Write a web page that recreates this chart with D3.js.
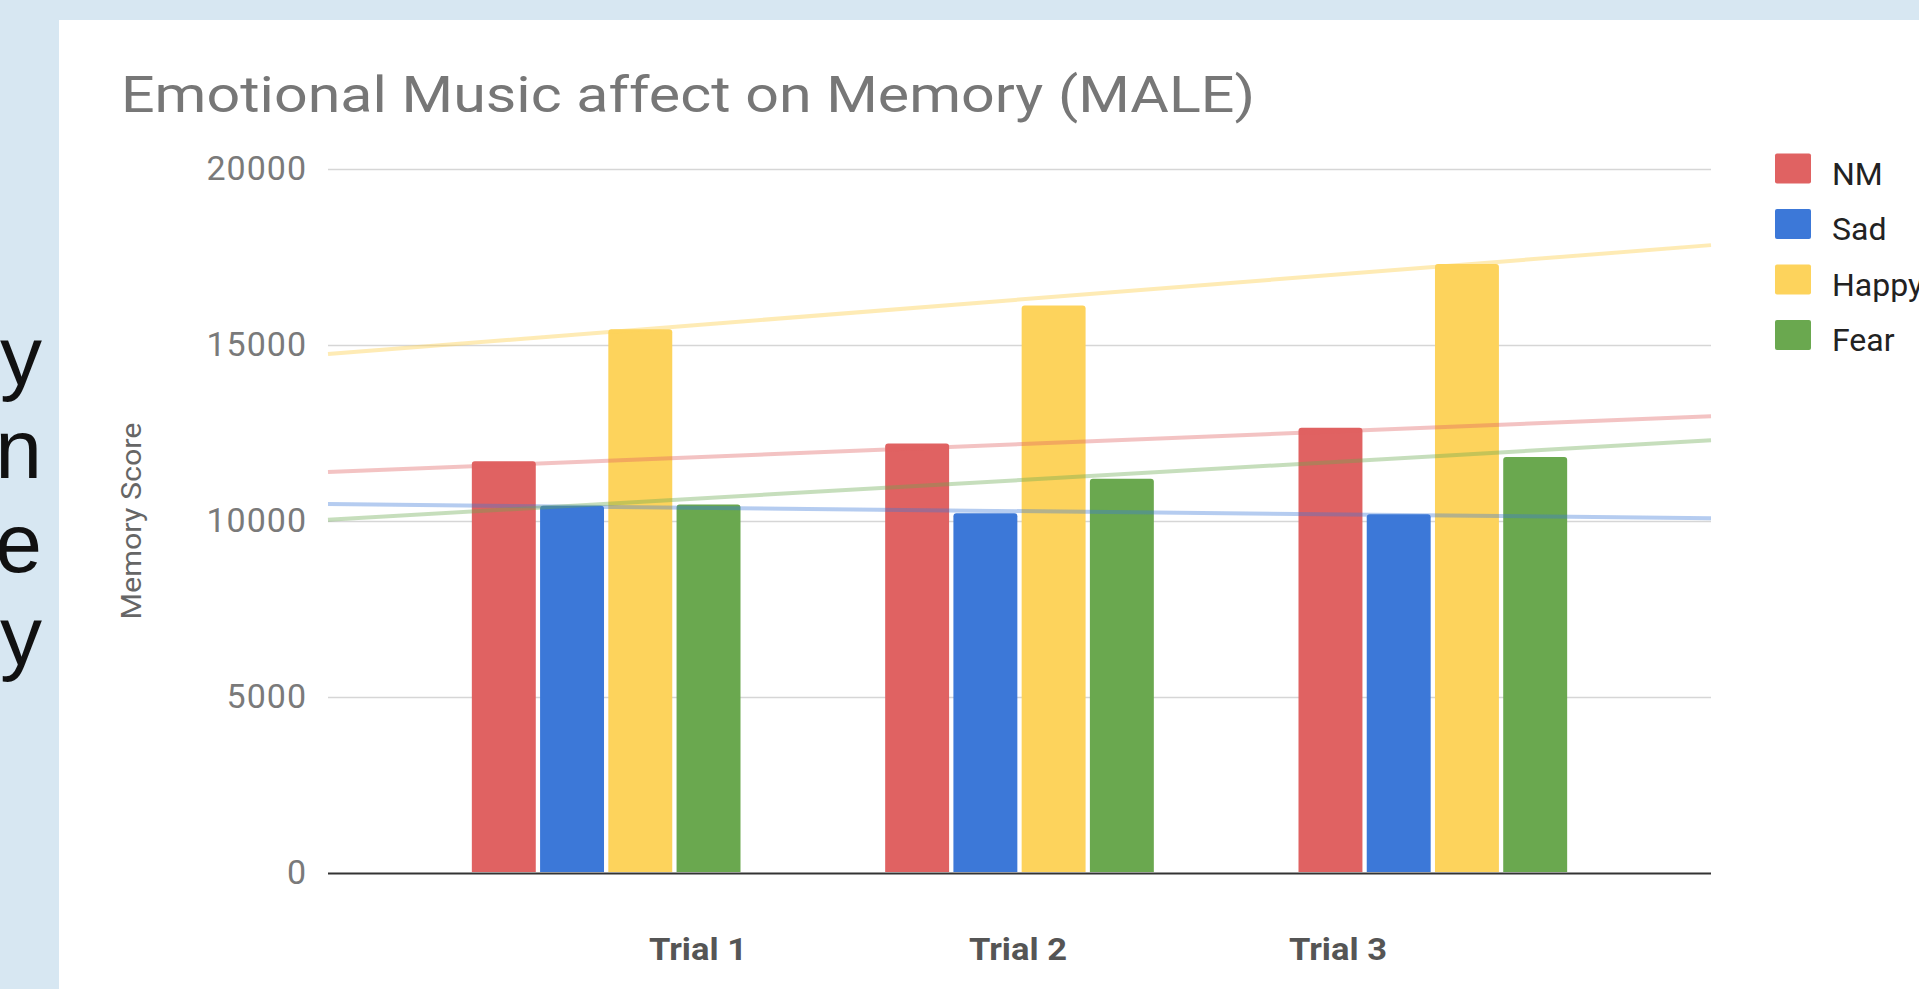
<!DOCTYPE html>
<html>
<head>
<meta charset="utf-8">
<script src="https://cdn.jsdelivr.net/npm/d3@7"></script>
<style>
  html, body { margin: 0; padding: 0; overflow: hidden; background: #d7e7f2; }
  svg { display: block; }
</style>
</head>
<body>
<script>
// Categories, series and values
const trials = ["Trial 1", "Trial 2", "Trial 3"];
const seriesNames = ["NM", "Sad", "Happy", "Fear"];
const nmScores    = [11700, 12200, 12650];
const sadScores   = [10430, 10220, 10190];
const happyScores = [15450, 16120, 17300];
const fearScores  = [10470, 11200, 11820];
const yTickValues = [0, 5000, 10000, 15000, 20000];
const seriesColors = ["#e06262", "#3c78d8", "#fdd35c", "#6aa84f"];
const slideLetters = ["y", "n", "e", "y"];

const seriesValues = [nmScores, sadScores, happyScores, fearScores];

const W = 1919, H = 989;
const plot = { left: 328, right: 1711, top: 169, bottom: 873 };

const svg = d3.select("body").append("svg")
  .attr("width", W).attr("height", H);

// slide background and the partly visible slide text
svg.append("rect").attr("width", W).attr("height", H).attr("fill", "#d7e7f2");
svg.append("g").selectAll("text").data(slideLetters).join("text")
  .attr("x", 42)
  .attr("y", (d, i) => 385 + i * 93.3)
  .attr("text-anchor", "end")
  .attr("font-family", "Liberation Sans, Arial, sans-serif")
  .attr("font-size", 84)
  .attr("fill", "#111")
  .text(d => d);

// chart panel
svg.append("rect").attr("x", 59).attr("y", 20).attr("width", W - 59).attr("height", H - 20).attr("fill", "#fff");

// title
svg.append("text")
  .attr("x", 121).attr("y", 112)
  .attr("font-family", "Roboto, sans-serif")
  .attr("font-size", 50)
  .attr("fill", "#777")
  .attr("textLength", 1134)
  .attr("lengthAdjust", "spacingAndGlyphs")
  .text("Emotional Music affect on Memory (MALE)");

// scales
const y = d3.scaleLinear().domain([0, 20000]).range([plot.bottom, plot.top]);
const x0 = d3.scaleBand().domain(trials).range([plot.left, plot.right])
  .paddingInner(0.35).paddingOuter(0.348);
const x1 = d3.scaleBand().domain(seriesNames).range([0, x0.bandwidth()]).paddingInner(0.063);
const color = d3.scaleOrdinal().domain(seriesNames).range(seriesColors);
const labelX = d3.scalePoint().domain(trials).range([698, 1338]);

// gridlines and tick labels
const yAxis = d3.axisLeft(y).tickValues(yTickValues).tickSize(0).tickPadding(21)
  .tickFormat(d3.format("d"));
const yAxisG = svg.append("g").attr("transform", `translate(${plot.left},0)`).call(yAxis);
yAxisG.select(".domain").remove();
yAxisG.selectAll("text")
  .attr("font-family", "Roboto, sans-serif")
  .attr("font-size", 34)
  .attr("letter-spacing", 1)
  .attr("fill", "#7a7a7a");
yAxisG.selectAll(".tick").append("line")
  .attr("x1", 0).attr("x2", plot.right - plot.left)
  .attr("stroke", d => d === 0 ? "#333" : "#d6d6d6")
  .attr("stroke-width", d => d === 0 ? 2.2 : 1.6);

// y axis title
svg.append("text")
  .attr("transform", "translate(141,521) rotate(-90)")
  .attr("text-anchor", "middle")
  .attr("font-family", "Roboto, sans-serif")
  .attr("font-size", 28)
  .attr("fill", "#666")
  .attr("textLength", 197)
  .attr("lengthAdjust", "spacingAndGlyphs")
  .text("Memory Score");

// bars with slightly rounded tops
function topRoundedBar(x, yTop, w, yBase, r) {
  const p = d3.path();
  p.moveTo(x, yBase);
  p.lineTo(x, yTop + r);
  p.quadraticCurveTo(x, yTop, x + r, yTop);
  p.lineTo(x + w - r, yTop);
  p.quadraticCurveTo(x + w, yTop, x + w, yTop + r);
  p.lineTo(x + w, yBase);
  p.closePath();
  return p.toString();
}

const barData = [];
trials.forEach((t, ti) => {
  seriesNames.forEach((s, si) => {
    barData.push({ trial: t, series: s, value: seriesValues[si][ti] });
  });
});

svg.append("g").selectAll("path").data(barData).join("path")
  .attr("d", d => topRoundedBar(x0(d.trial) + x1(d.series), y(d.value), x1.bandwidth(), y(0) - 1, 3))
  .attr("fill", d => color(d.series));

// linear trendlines fitted to each series, spanning the plot width
const centers = trials.map(t => x0(t) + x0.bandwidth() / 2);
const idxToX = d3.scaleLinear().domain([0, trials.length - 1]).range([centers[0], centers[centers.length - 1]]);
const iLeft = idxToX.invert(plot.left), iRight = idxToX.invert(plot.right);

function fit(vals) {
  const n = vals.length;
  const xs = d3.range(n);
  const mx = d3.mean(xs), my = d3.mean(vals);
  const b = d3.sum(xs, (xi, k) => (xi - mx) * (vals[k] - my)) / d3.sum(xs, xi => (xi - mx) ** 2);
  return i => my + b * (i - mx);
}

const trendLine = d3.line().x(d => idxToX(d[0])).y(d => y(d[1]));
svg.append("g").selectAll("path").data(seriesNames).join("path")
  .attr("d", (s, si) => {
    const f = fit(seriesValues[si]);
    return trendLine([[iLeft, f(iLeft)], [iRight, f(iRight)]]);
  })
  .attr("fill", "none")
  .attr("stroke", s => color(s))
  .attr("stroke-width", 4)
  .attr("stroke-opacity", s => s === "Happy" ? 0.45 : 0.38);

// category labels
svg.append("g").selectAll("text").data(trials).join("text")
  .attr("x", d => labelX(d))
  .attr("y", 960)
  .attr("text-anchor", "middle")
  .attr("font-family", "Roboto, sans-serif")
  .attr("font-weight", "bold")
  .attr("font-size", 31)
  .attr("fill", "#555")
  .attr("textLength", 98)
  .attr("lengthAdjust", "spacingAndGlyphs")
  .text(d => d);

// legend
const legend = svg.append("g").selectAll("g").data(seriesNames).join("g")
  .attr("transform", (d, i) => `translate(1775,${168.5 + i * 55.5})`);
legend.append("rect")
  .attr("x", 0).attr("y", -15).attr("width", 36).attr("height", 30).attr("rx", 2)
  .attr("fill", d => color(d));
legend.append("text")
  .attr("x", 57).attr("y", 16)
  .attr("font-family", "Roboto, sans-serif")
  .attr("font-size", 32)
  .attr("fill", "#222")
  .text(d => d);
</script>
</body>
</html>
